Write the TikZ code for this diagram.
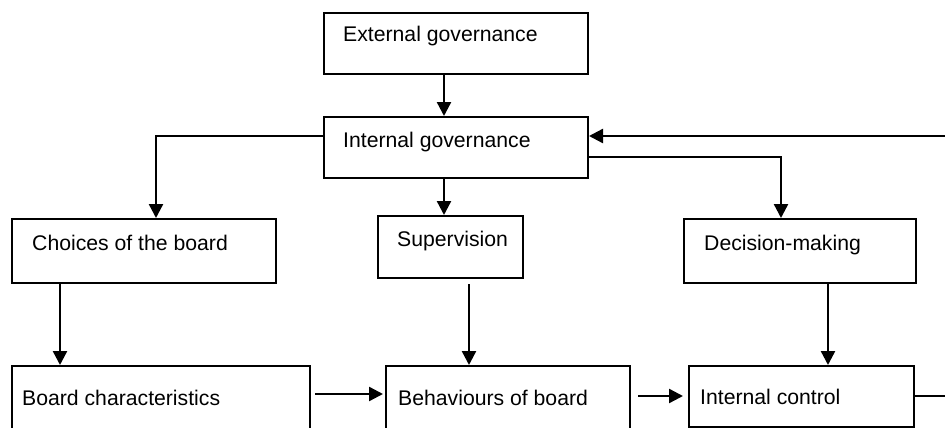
\documentclass[tikz,border=0pt]{standalone}
\usepackage{fontspec}
\setmainfont{Liberation Sans}
\usetikzlibrary{arrows.meta,calc}
\tikzset{
  box/.style={draw=black, line width=2pt, rectangle, inner sep=0pt, anchor=north west},
  lbl/.style={anchor=base west, inner sep=0pt, font=\fontsize{21.2}{25}\selectfont},
  arr/.style={line width=2.4pt, -{Triangle[length=14pt,width=14pt]}},
  ln/.style={line width=2.4pt}
}
\begin{document}
\begin{tikzpicture}[x=1pt,y=-1pt]
\useasboundingbox (0,0) rectangle (945,428);
\clip (0,0) rectangle (945,428);
% boxes
\node[box, minimum width=264pt, minimum height=61pt] (ext) at (323,12) {};
\node[box, minimum width=264pt, minimum height=61pt] (int) at (323,116) {};
\node[box, minimum width=264pt, minimum height=64pt] (cho) at (11,218) {};
\node[box, minimum width=145pt, minimum height=62pt] (sup) at (377,215) {};
\node[box, minimum width=232pt, minimum height=64pt] (dec) at (683,218) {};
\node[box, minimum width=298pt, minimum height=80pt] (boa) at (11,365) {};
\node[box, minimum width=244pt, minimum height=80pt] (beh) at (385,365) {};
\node[box, minimum width=225pt, minimum height=61pt] (ic) at (688,365) {};
% texts
\node[lbl] (extT) at (343,42) {External governance};
\node[lbl] (intT) at (343,147) {Internal governance};
\node[lbl] (choT) at (32,250) {Choices of the board};
\node[lbl] (supT) at (397,246) {Supervision};
\node[lbl] (decT) at (704,250) {Decision-making};
\node[lbl] (boaT) at (22,405) {Board characteristics};
\node[lbl] (behT) at (398,405) {Behaviours of board};
\node[lbl] (icT) at (700,404) {Internal control};
% free ends
\coordinate (fbin) at (945,136);
\coordinate (decrow) at (945,157);
\coordinate (row) at (0,394);
\coordinate (icout) at (945,396);
% connectors
\draw[arr] ([xshift=-12pt]ext.south) -- ([xshift=-12pt]ext.south |- int.north);
\draw[arr] (fbin) -- (fbin -| int.east);
\draw[arr] (fbin -| int.west) -| ([xshift=12pt]cho.north);
\draw[arr] ([xshift=-12pt]int.south) -- ([xshift=-12pt]int.south |- sup.north);
\draw[arr] (decrow -| int.east) -| ([xshift=-19pt]dec.north);
\draw[arr] ([xshift=-84pt]cho.south) -- ([xshift=-84pt]cho.south |- boa.north);
\draw[arr, shorten <=5pt] ([xshift=18.5pt]sup.south) -- ([xshift=18.5pt]sup.south |- beh.north);
\draw[arr] ([xshift=28pt]dec.south) -- ([xshift=28pt]dec.south |- ic.north);
\draw[arr, shorten <=4pt, shorten >=2pt] (boa.east |- row) -- (beh.west |- row);
\draw[arr, shorten <=7pt, shorten >=5pt] (beh.east |- icout) -- (ic.west |- icout);
\draw[ln] (ic.east |- icout) -- (icout);
\end{tikzpicture}
\end{document}
